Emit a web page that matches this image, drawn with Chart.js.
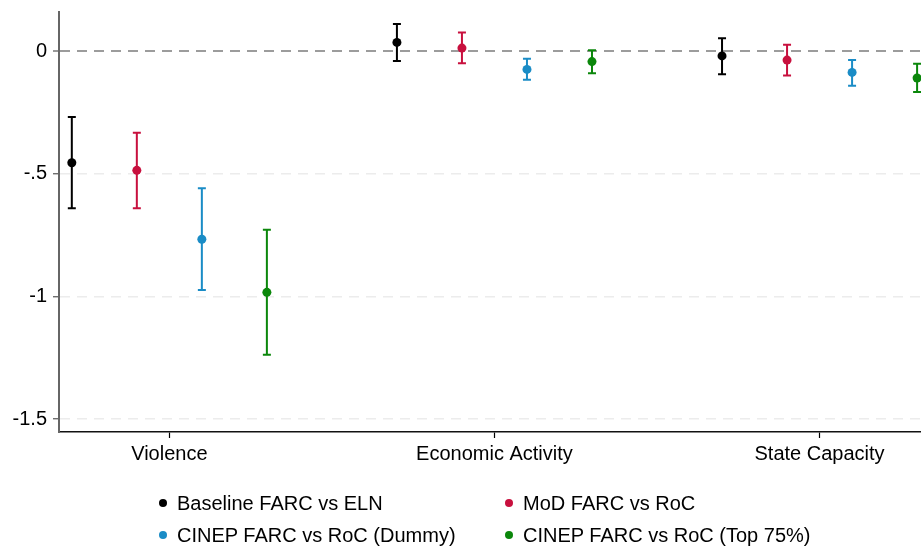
<!DOCTYPE html>
<html>
<head>
<meta charset="utf-8">
<script src="https://cdn.jsdelivr.net/npm/chart.js@4.4.1/dist/chart.umd.min.js"></script>
<style>
  body { margin: 0; background: #fff; font-family: "Liberation Sans", Arial, sans-serif; }
  #wrap { position: relative; width: 921px; height: 546px; }
  .lg { position: absolute; font-size: 20px; color: #000; white-space: nowrap; line-height: 24px; transform: translateY(-50%); }
  .lg i { position: absolute; width: 8px; height: 8px; border-radius: 50%; top: 8px; }
</style>
</head>
<body>
<div id="wrap">
  <canvas id="chart" width="921" height="546"></canvas>
  <div id="legend"></div>
</div>
<script>
// categories on the x axis and where the groups sit
const categories = ["Violence", "Economic Activity", "State Capacity"];
const categoryPos = [0, 5, 10];

const seriesNames = [
  "Baseline FARC vs ELN",
  "MoD FARC vs RoC",
  "CINEP FARC vs RoC (Dummy)",
  "CINEP FARC vs RoC (Top 75%)"
];
const seriesColors = ["#000000", "#c8103e", "#1a8cc6", "#0b870b"];
const seriesOffsets = [-1.5, -0.5, 0.5, 1.5];

// point estimates and 95% CI, one value per category
const baselineEst = [-0.455, 0.035, -0.020];
const baselineLo  = [-0.640, -0.041, -0.095];
const baselineHi  = [-0.269, 0.110, 0.052];

const modEst = [-0.486, 0.012, -0.037];
const modLo  = [-0.640, -0.050, -0.100];
const modHi  = [-0.333, 0.075, 0.026];

const dummyEst = [-0.767, -0.075, -0.087];
const dummyLo  = [-0.974, -0.117, -0.141];
const dummyHi  = [-0.559, -0.031, -0.037];

const top75Est = [-0.983, -0.043, -0.110];
const top75Lo  = [-1.237, -0.091, -0.167];
const top75Hi  = [-0.728, 0.003, -0.052];

const yTicks = [0, -0.5, -1, -1.5];
const yTickLabels = ["0", "-.5", "-1", "-1.5"];

const estimates = [baselineEst, modEst, dummyEst, top75Est];
const lows = [baselineLo, modLo, dummyLo, top75Lo];
const highs = [baselineHi, modHi, dummyHi, top75Hi];

const datasets = seriesNames.map((name, s) => ({
  label: name,
  data: categoryPos.map((c, i) => ({
    x: c + seriesOffsets[s],
    y: estimates[s][i],
    lo: lows[s][i],
    hi: highs[s][i]
  })),
  backgroundColor: seriesColors[s],
  borderColor: seriesColors[s],
  borderWidth: 0,
  pointRadius: 4.5,
  pointHoverRadius: 4.5
}));

// whiskers with caps, drawn under the points
const errorBars = {
  id: "errorBars",
  beforeDatasetsDraw(chart) {
    const ctx = chart.ctx;
    const xs = chart.scales.x, ys = chart.scales.y;
    ctx.save();
    ctx.lineWidth = 2;
    chart.data.datasets.forEach((ds) => {
      ctx.strokeStyle = ds.borderColor;
      ds.data.forEach((p) => {
        const px = xs.getPixelForValue(p.x);
        const top = ys.getPixelForValue(p.hi);
        const bot = ys.getPixelForValue(p.lo);
        ctx.beginPath();
        ctx.moveTo(px, top);
        ctx.lineTo(px, bot);
        ctx.moveTo(px - 4, top);
        ctx.lineTo(px + 4, top);
        ctx.moveTo(px - 4, bot);
        ctx.lineTo(px + 4, bot);
        ctx.stroke();
      });
    });
    ctx.restore();
  }
};

Chart.defaults.font.family = '"Liberation Sans", Arial, sans-serif';
Chart.defaults.font.size = 20;
Chart.defaults.color = "#000";

new Chart(document.getElementById("chart"), {
  type: "scatter",
  data: { datasets: datasets },
  plugins: [errorBars],
  options: {
    responsive: false,
    animation: false,
    events: [],
    layout: { autoPadding: false, padding: { top: 12, bottom: 74, left: 0, right: 0 } },
    plugins: {
      legend: { display: false },
      tooltip: { enabled: false }
    },
    scales: {
      x: {
        type: "linear",
        min: -1.697,
        max: 11.56,
        afterBuildTicks: (scale) => {
          scale.ticks = categoryPos.map((v) => ({ value: v }));
        },
        afterFit: (scale) => {
          scale.height = 40;
          scale.paddingLeft = 0;
          scale.paddingRight = 0;
        },
        ticks: {
          padding: 4,
          maxRotation: 0,
          autoSkip: false,
          callback: (v, i) => categories[i]
        },
        grid: {
          drawOnChartArea: false,
          tickLength: 6,
          tickColor: "#000",
          tickWidth: 1.2
        },
        border: { color: "#111", width: 1.5 }
      },
      y: {
        min: -1.552,
        max: 0.159,
        afterBuildTicks: (scale) => {
          scale.ticks = yTicks.map((v) => ({ value: v }));
        },
        afterFit: (scale) => {
          scale.width = 59;
          scale.paddingTop = 0;
          scale.paddingBottom = 0;
        },
        ticks: {
          padding: 6,
          callback: (v, i) => yTickLabels[i]
        },
        grid: {
          color: (c) => (c.tick && c.tick.value === 0 ? "#9c9c9c" : "#ececec"),
          lineWidth: (c) => (c.tick && c.tick.value === 0 ? 2 : 1.5),
          tickLength: 6,
          tickColor: "#555",
          tickWidth: 1.2
        },
        border: { color: "#666", width: 2, dash: [10, 7] }
      }
    }
  }
});

// legend, two columns
const legendCols = [163, 509];
const legendRows = [503, 535];
const legend = document.getElementById("legend");
seriesNames.forEach((name, s) => {
  const el = document.createElement("div");
  el.className = "lg";
  el.style.left = (legendCols[s % 2] + 14) + "px";
  el.style.top = legendRows[Math.floor(s / 2)] + "px";
  el.innerHTML = '<i style="left:-18px;background:' + seriesColors[s] + '"></i>' + name;
  legend.appendChild(el);
});
</script>
</body>
</html>
